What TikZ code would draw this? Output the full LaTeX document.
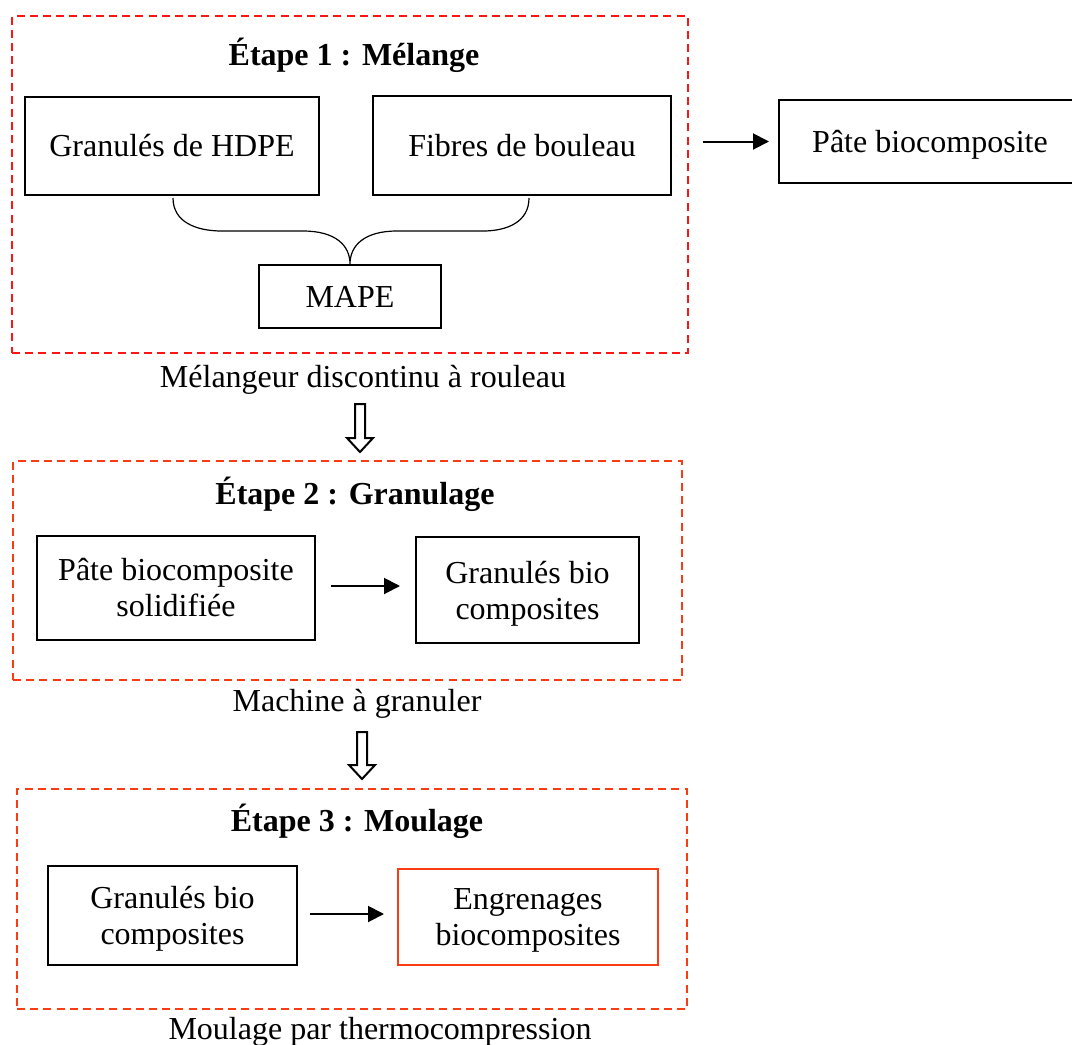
\documentclass[tikz,border=0pt]{standalone}
\usepackage{fontspec}
\setmainfont{Liberation Serif}
\usetikzlibrary{arrows.meta}
\definecolor{stagered}{RGB}{255,20,20}
\definecolor{orred}{RGB}{250,60,20}
\begin{document}
\begin{tikzpicture}[x=0.5pt,y=-0.5pt,
  txt/.style={font=\fontsize{16pt}{18pt}\selectfont, align=center},
  ttl/.style={font=\fontsize{16pt}{18pt}\selectfont\bfseries},
  bx/.style={txt, draw, line width=1pt, rectangle, inner sep=0pt},
  stagebox/.style={draw, dash pattern=on 4pt off 2.6pt, line width=0.8pt, rectangle, inner sep=0pt},
  arr/.style={line width=1pt, -{Triangle[length=8pt,width=8pt]}},
  hollow/.style={draw, line width=1pt, fill=white, line join=miter}
]
\useasboundingbox (0,0) rectangle (1072,1045);

% Stage frames
\node[stagebox, draw=stagered, minimum width=338pt, minimum height=168.5pt] (stage1) at (350,184.5) {};
\node[stagebox, draw=orred, minimum width=334.5pt, minimum height=109.5pt] (stage2) at (347.5,570.5) {};
\node[stagebox, draw=orred, minimum width=335pt, minimum height=110pt] (stage3) at (352,899) {};

% Titles
\node[ttl] (t1) at (354,55) {Étape 1 : Mélange};
\node[ttl] (t2) at (355,494) {Étape 2 : Granulage};
\node[ttl] (t3) at (357,821) {Étape 3 : Moulage};

% Stage 1 boxes
\node[bx, minimum width=147pt, minimum height=49pt] (hdpe) at (172,146) {Granulés de HDPE};
\node[bx, minimum width=149pt, minimum height=49.5pt] (fibres) at (522,145.5) {Fibres de bouleau};
\node[bx, minimum width=91pt, minimum height=31.5pt] (mape) at (350,296.5) {MAPE};
\node[bx, text depth=0pt, minimum width=151pt, minimum height=41.5pt] (pate) at (930,141.5) {Pâte biocomposite};

% Brace
\coordinate (bl) at (173,198);
\coordinate (br) at (529,198);
\draw[line width=0.6pt] (bl) .. controls (173,222) and (196,231) .. (222,231)
  -- (303,231) .. controls (335,231) and (350,245) .. (mape.north)
  .. controls (350,245) and (365,231) .. (397,231)
  -- (483,231) .. controls (507,231) and (529,222) .. (br);

% Arrow to Pâte
\draw[arr, shorten <=7pt, shorten >=4.5pt] (stage1.east |- pate.west) -- (pate.west);

% Labels under stages
\node[txt] (mel) at (363,380) {Mélangeur discontinu à rouleau};
\node[txt] (mach) at (357,704) {Machine à granuler};
\node[txt] (moul) at (380,1032) {Moulage par thermocompression};

% Hollow arrows
\draw[hollow] (355,404) -- (365,404) -- (365,438) -- (373,438) -- (360,452) -- (347,438) -- (355,438) -- cycle;
\draw[hollow] (357,732) -- (367,732) -- (367,765) -- (375,765) -- (362,779) -- (349,765) -- (357,765) -- cycle;

% Stage 2 boxes
\node[bx, minimum width=139pt, minimum height=52pt] (solid) at (176,588) {Pâte biocomposite\\solidifiée};
\node[bx, text depth=0pt, minimum width=111.5pt, minimum height=53pt] (gran2) at (527.5,590) {Granulés bio\\composites};
\draw[arr, shorten <=7.5pt, shorten >=7.5pt] (solid.east |- 0,586) -- (gran2.west |- 0,586);

% Stage 3 boxes
\node[bx, text depth=0pt, minimum width=124.5pt, minimum height=49.5pt] (gran3) at (172.5,915.5) {Granulés bio\\composites};
\node[bx, text depth=0pt, draw=orred, minimum width=130pt, minimum height=48pt] (engr) at (528,917) {Engrenages\\biocomposites};
\draw[arr, shorten <=6pt, shorten >=6.5pt] (gran3.east |- 0,914) -- (engr.west |- 0,914);
\end{tikzpicture}
\end{document}
